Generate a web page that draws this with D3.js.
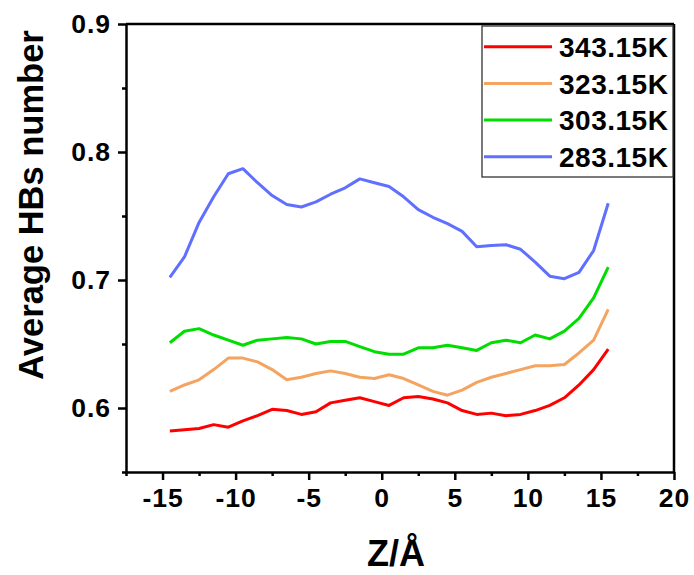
<!DOCTYPE html>
<html>
<head>
<meta charset="utf-8">
<script src="https://cdn.jsdelivr.net/npm/d3@7"></script>
<style>
  html, body { margin: 0; padding: 0; background: #fff; }
  svg { display: block; }
  text { font-family: "Liberation Sans", Arial, sans-serif; font-weight: bold; fill: #000; }
</style>
</head>
<body>
<svg id="chart" width="694" height="575"></svg>
<script>
// ---- data ----
const zValues = [-14.5, -13.5, -12.5, -11.5, -10.5, -9.5, -8.5, -7.5, -6.5, -5.5, -4.5, -3.5, -2.5, -1.5, -0.5,
                 0.5, 1.5, 2.5, 3.5, 4.5, 5.5, 6.5, 7.5, 8.5, 9.5, 10.5, 11.5, 12.5, 13.5, 14.5, 15.5];
const seriesNames = ["343.15K", "323.15K", "303.15K", "283.15K"];
const hb343 = [0.582, 0.583, 0.584, 0.587, 0.585, 0.590, 0.594, 0.599, 0.598, 0.595, 0.597, 0.604, 0.606, 0.608, 0.605,
               0.602, 0.608, 0.609, 0.607, 0.604, 0.598, 0.595, 0.596, 0.594, 0.595, 0.598, 0.602, 0.608, 0.618, 0.630, 0.646];
const hb323 = [0.613, 0.618, 0.622, 0.630, 0.639, 0.639, 0.636, 0.630, 0.622, 0.624, 0.627, 0.629, 0.627, 0.624, 0.623,
               0.626, 0.623, 0.618, 0.613, 0.610, 0.614, 0.620, 0.624, 0.627, 0.630, 0.633, 0.633, 0.634, 0.643, 0.653, 0.677];
const hb303 = [0.651, 0.660, 0.662, 0.657, 0.653, 0.649, 0.653, 0.654, 0.655, 0.654, 0.650, 0.652, 0.652, 0.648, 0.644,
               0.642, 0.642, 0.647, 0.647, 0.649, 0.647, 0.645, 0.651, 0.653, 0.651, 0.657, 0.654, 0.660, 0.670, 0.686, 0.710];
const hb283 = [0.702, 0.718, 0.745, 0.765, 0.783, 0.787, 0.776, 0.766, 0.759, 0.757, 0.761, 0.767, 0.772, 0.779, 0.776,
               0.773, 0.765, 0.755, 0.749, 0.744, 0.738, 0.726, 0.727, 0.7275, 0.724, 0.714, 0.703, 0.701, 0.706, 0.723, 0.760];
const xMajorTicks = [-15, -10, -5, 0, 5, 10, 15, 20];
const xMinorTicks = [-17.5, -12.5, -7.5, -2.5, 2.5, 7.5, 12.5, 17.5];
const yMajorTicks = [0.6, 0.7, 0.8, 0.9];
const yMinorTicks = [0.55, 0.65, 0.75, 0.85];
const xLabel = "Z/Å";
const yLabel = "Average HBs number";

const colors = ["#ff0000", "#f4a460", "#00dd00", "#5f6fff"];
const seriesValues = [hb343, hb323, hb303, hb283];

// ---- layout ----
const pLeft = 126, pRight = 674, pTop = 24, pBottom = 472;
const svg = d3.select("#chart");

const x = d3.scaleLinear().domain([-17.5, 20]).range([pLeft, pRight]);
const y = d3.scaleLinear().domain([0.55, 0.9]).range([pBottom, pTop]);

// data lines
const line = d3.line().x(d => x(d[0])).y(d => y(d[1]));
seriesValues.forEach((vals, i) => {
  svg.append("path")
    .datum(zValues.map((z, j) => [z, vals[j]]))
    .attr("fill", "none")
    .attr("stroke", colors[i])
    .attr("stroke-width", 3)
    .attr("stroke-linejoin", "round")
    .attr("d", line);
});

// frame top and right
svg.append("line").attr("x1", pLeft).attr("x2", pRight).attr("y1", pTop).attr("y2", pTop)
  .attr("stroke", "#000").attr("stroke-width", 2.5);
svg.append("line").attr("x1", pRight).attr("x2", pRight).attr("y1", pTop).attr("y2", pBottom)
  .attr("stroke", "#000").attr("stroke-width", 2.5);

// x axis
const xAxis = svg.append("g").attr("transform", `translate(0,${pBottom})`)
  .call(d3.axisBottom(x).tickValues(xMajorTicks).tickSize(8).tickPadding(8).tickSizeOuter(0).tickFormat(d => String(d)));
const xMinor = svg.append("g").attr("transform", `translate(0,${pBottom})`)
  .call(d3.axisBottom(x).tickValues(xMinorTicks).tickSize(4).tickSizeOuter(0).tickFormat(""));
xMinor.select(".domain").remove();

// y axis
const yAxis = svg.append("g").attr("transform", `translate(${pLeft},0)`)
  .call(d3.axisLeft(y).tickValues(yMajorTicks).tickSize(8).tickPadding(7).tickSizeOuter(0).tickFormat(d => d.toFixed(1)));
const yMinor = svg.append("g").attr("transform", `translate(${pLeft},0)`)
  .call(d3.axisLeft(y).tickValues(yMinorTicks).tickSize(4).tickSizeOuter(0).tickFormat(""));
yMinor.select(".domain").remove();

svg.selectAll(".domain").attr("stroke", "#000").attr("stroke-width", 2.5);
svg.selectAll(".tick line").attr("stroke", "#000").attr("stroke-width", 2.5);
[xAxis, yAxis].forEach(a => a.selectAll(".tick text")
  .attr("font-size", 26.5).attr("letter-spacing", 1)
  .attr("font-family", "Liberation Sans, Arial, sans-serif").attr("font-weight", "bold").attr("fill", "#000"));

// axis titles
svg.append("text").attr("x", 396).attr("y", 566).attr("text-anchor", "middle")
  .attr("font-size", 36).text(xLabel);
svg.append("text").attr("transform", "translate(43,205) rotate(-90)").attr("text-anchor", "middle")
  .attr("font-size", 34.5).text(yLabel);

// legend
const lg = svg.append("g");
lg.append("rect").attr("x", 482).attr("y", 26).attr("width", 191).attr("height", 151)
  .attr("fill", "#fff").attr("stroke", "#333").attr("stroke-width", 1.3);
seriesNames.forEach((name, i) => {
  const cy = 46.7 + i * 36.7;
  lg.append("line").attr("x1", 484).attr("x2", 552).attr("y1", cy).attr("y2", cy)
    .attr("stroke", colors[i]).attr("stroke-width", 3);
  lg.append("text").attr("x", 559).attr("y", cy + 10.3).attr("font-size", 28).attr("letter-spacing", 0.5).text(name);
});
</script>
</body>
</html>
